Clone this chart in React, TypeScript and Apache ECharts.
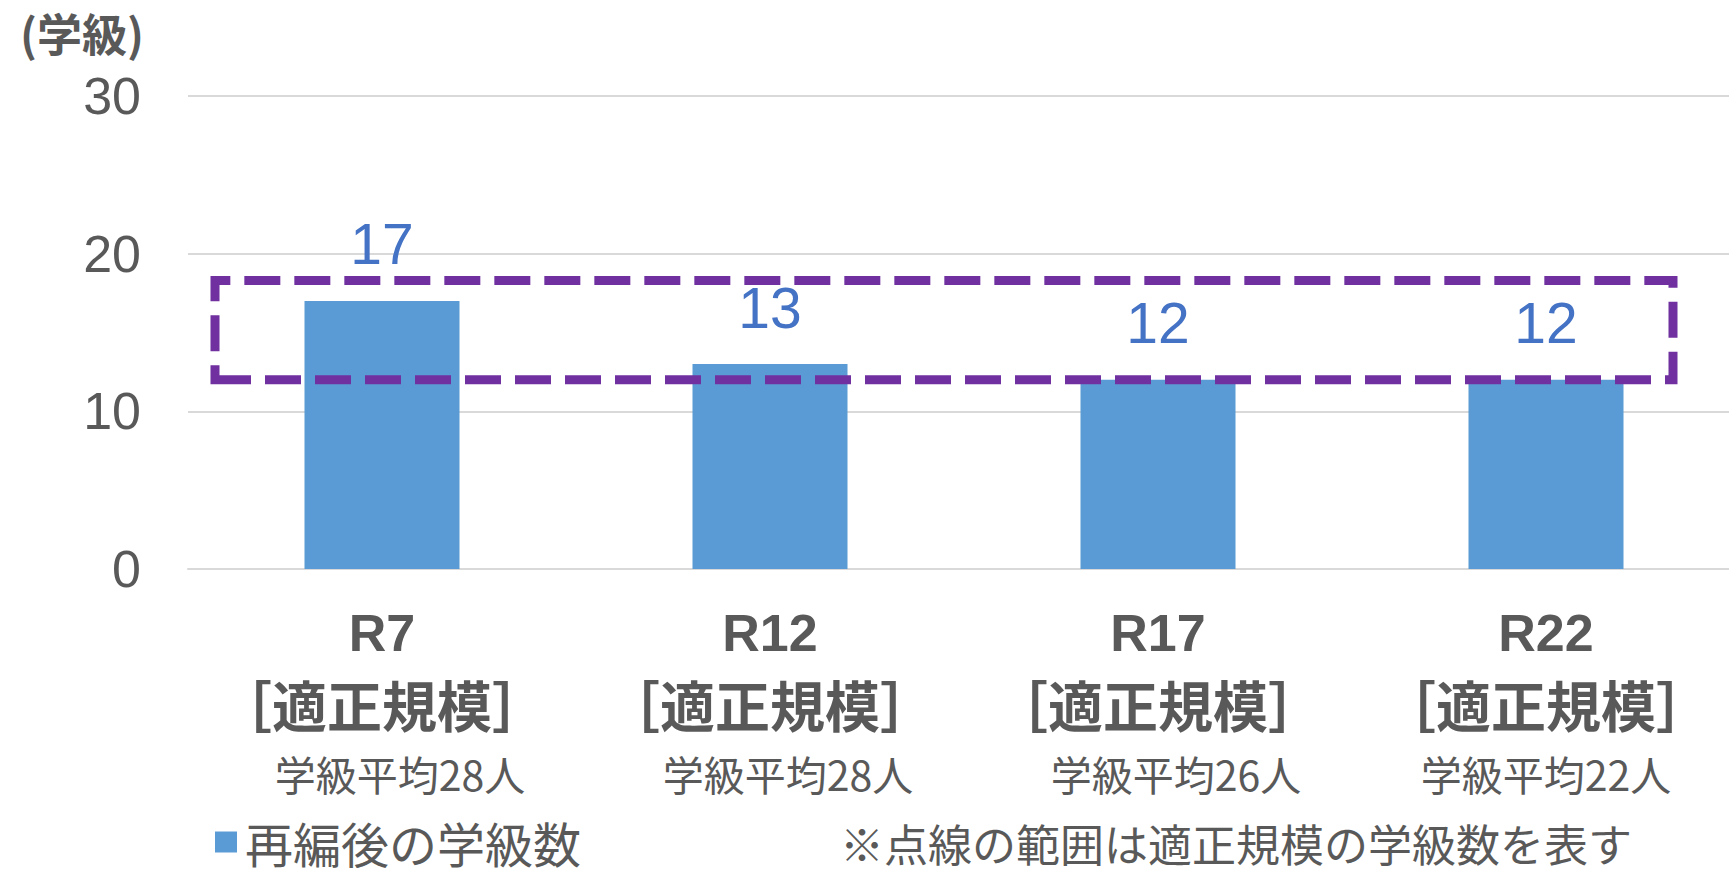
import React, { useEffect, useRef } from "react";
import * as echarts from "echarts";

const categories = ["R7", "R12", "R17", "R22"];
const classCounts = [17, 13, 12, 12];
const averageLabels = ["学級平均28人", "学級平均28人", "学級平均26人", "学級平均22人"];
const scaleLabel = "［適正規模］";
const yMin = 0;
const yMax = 30;
const yInterval = 10;
const appropriateRange = [12, 18.3];
const seriesName = "再編後の学級数";
const unitLabel = "(学級)";
const noteText = "※点線の範囲は適正規模の学級数を表す";

const GRAY = "#595959";
const CJK = "'Noto Sans CJK JP', sans-serif";
const NUM = "'Liberation Sans', Arial, sans-serif";
// small rightward shift of the third label line (layout only)
const avgShift = ["s", "s", "s", "n"];

export default function App() {
  const ref = useRef<HTMLDivElement>(null);
  useEffect(() => {
    if (!ref.current) return;
    const chart = echarts.init(ref.current, null, { renderer: "svg" });
    chart.setOption({
      animation: false,
      backgroundColor: "#ffffff",
      grid: { left: 188, right: 0, top: 96, bottom: 300, containLabel: false },
      legend: {
        data: [seriesName],
        left: 210,
        top: 813,
        icon: "rect",
        itemWidth: 22,
        itemHeight: 21,
        textStyle: { fontSize: 48, lineHeight: 42, color: GRAY, fontFamily: CJK, padding: [0, 0, 0, 3] },
      },
      xAxis: {
        type: "category",
        data: categories,
        axisLine: { show: true, lineStyle: { color: "#d9d9d9", width: 2 } },
        axisTick: { show: false },
        axisLabel: {
          interval: 0,
          margin: 29,
          formatter: (value: string, index: number) =>
            `{a|${value}}\n{b|${scaleLabel}}\n{${avgShift[index]}|${averageLabels[index]}}`,
          rich: {
            a: { fontSize: 52, fontWeight: "bold", color: GRAY, fontFamily: NUM, lineHeight: 70 },
            b: { fontSize: 55, fontWeight: "bold", color: GRAY, fontFamily: CJK, lineHeight: 70 },
            s: { fontSize: 41, color: GRAY, fontFamily: CJK, lineHeight: 70, padding: [0, 0, 0, 36] },
            n: { fontSize: 41, color: GRAY, fontFamily: CJK, lineHeight: 70 },
          },
        },
      },
      yAxis: {
        type: "value",
        min: yMin,
        max: yMax,
        interval: yInterval,
        axisLine: { show: false },
        axisTick: { show: false },
        splitLine: { lineStyle: { color: "#d9d9d9", width: 2 } },
        axisLabel: { fontSize: 52, color: GRAY, fontFamily: NUM, margin: 47 },
      },
      series: [
        {
          name: seriesName,
          type: "bar",
          data: classCounts,
          barWidth: 155,
          itemStyle: { color: "#5B9BD5" },
          label: {
            show: true,
            position: "top",
            distance: 28,
            fontSize: 57,
            color: "#4472C4",
            fontFamily: NUM,
          },
          markArea: {
            silent: true,
            z: 10,
            itemStyle: {
              color: "rgba(0,0,0,0)",
              borderColor: "#7030A0",
              borderWidth: 9,
              borderType: [36, 14],
            },
            label: { show: false },
            data: [[{ x: 215, yAxis: appropriateRange[1] }, { x: 1673, yAxis: appropriateRange[0] }]],
          },
        },
      ],
      graphic: [
        {
          type: "text",
          left: 20,
          top: 10,
          style: { text: unitLabel, fontSize: 45, fontWeight: "bold", fill: GRAY, fontFamily: CJK },
        },
        {
          type: "text",
          x: 840,
          y: 843,
          style: {
            text: noteText,
            fontSize: 44,
            lineHeight: 38,
            fill: GRAY,
            fontFamily: CJK,
            verticalAlign: "middle",
          },
        },
      ],
    });
    return () => chart.dispose();
  }, []);
  return (
    <div style={{ position: "absolute", left: 0, top: 0, width: 1729, height: 869, overflow: "hidden", background: "#fff" }}>
      <div ref={ref} style={{ width: 1740, height: 869 }} />
    </div>
  );
}
